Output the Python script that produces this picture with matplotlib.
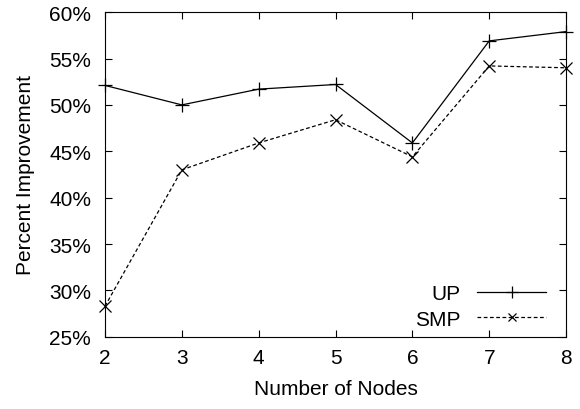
import matplotlib
matplotlib.use("Agg")
import matplotlib.pyplot as plt
from matplotlib.ticker import FuncFormatter

plt.rcParams['font.family'] = ['Liberation Sans', 'DejaVu Sans']

# data
nodes = [2, 3, 4, 5, 6, 7, 8]
up = [52.1, 50.0, 51.7, 52.2, 45.9, 56.9, 57.9]
smp = [28.3, 43.0, 45.9, 48.4, 44.4, 54.2, 54.0]

fs = 15

fig = plt.figure(figsize=(5.8, 4.1), dpi=100)
ax = fig.add_axes([0.181, 0.176, 0.795, 0.792])

ax.plot(nodes, up, color="black", linewidth=0.9, marker="+", markersize=10,
        markeredgewidth=0.9, label="UP", clip_on=False)
ax.plot(nodes, smp, color="black", linewidth=0.9, linestyle=(0, (3, 2)),
        marker="x", markersize=8, markeredgewidth=0.9, label="SMP", clip_on=False)

ax.set_xlim(2, 8)
ax.set_ylim(25, 60)
ax.set_xticks(nodes)
ax.set_yticks(range(25, 61, 5))
ax.yaxis.set_major_formatter(FuncFormatter(lambda v, p: f"{v:.0f}%"))
ax.tick_params(direction="in", top=True, right=True, length=5, width=0.8,
               labelsize=fs)
ax.tick_params(axis="y", pad=10)
ax.tick_params(axis="x", pad=8)
for s in ax.spines.values():
    s.set_linewidth(0.8)

ax.set_xlabel("Number of Nodes", fontsize=fs, labelpad=9)
ax.set_ylabel("Percent Improvement", fontsize=fs, labelpad=10)

ax.legend(loc="lower right", frameon=False, markerfirst=False, fontsize=fs,
          handlelength=3.3, handletextpad=0.8, labelspacing=0.3,
          borderaxespad=0.0, bbox_to_anchor=(0.975, 0.0), markerscale=0.8)

fig.savefig("out.png", dpi=100)
